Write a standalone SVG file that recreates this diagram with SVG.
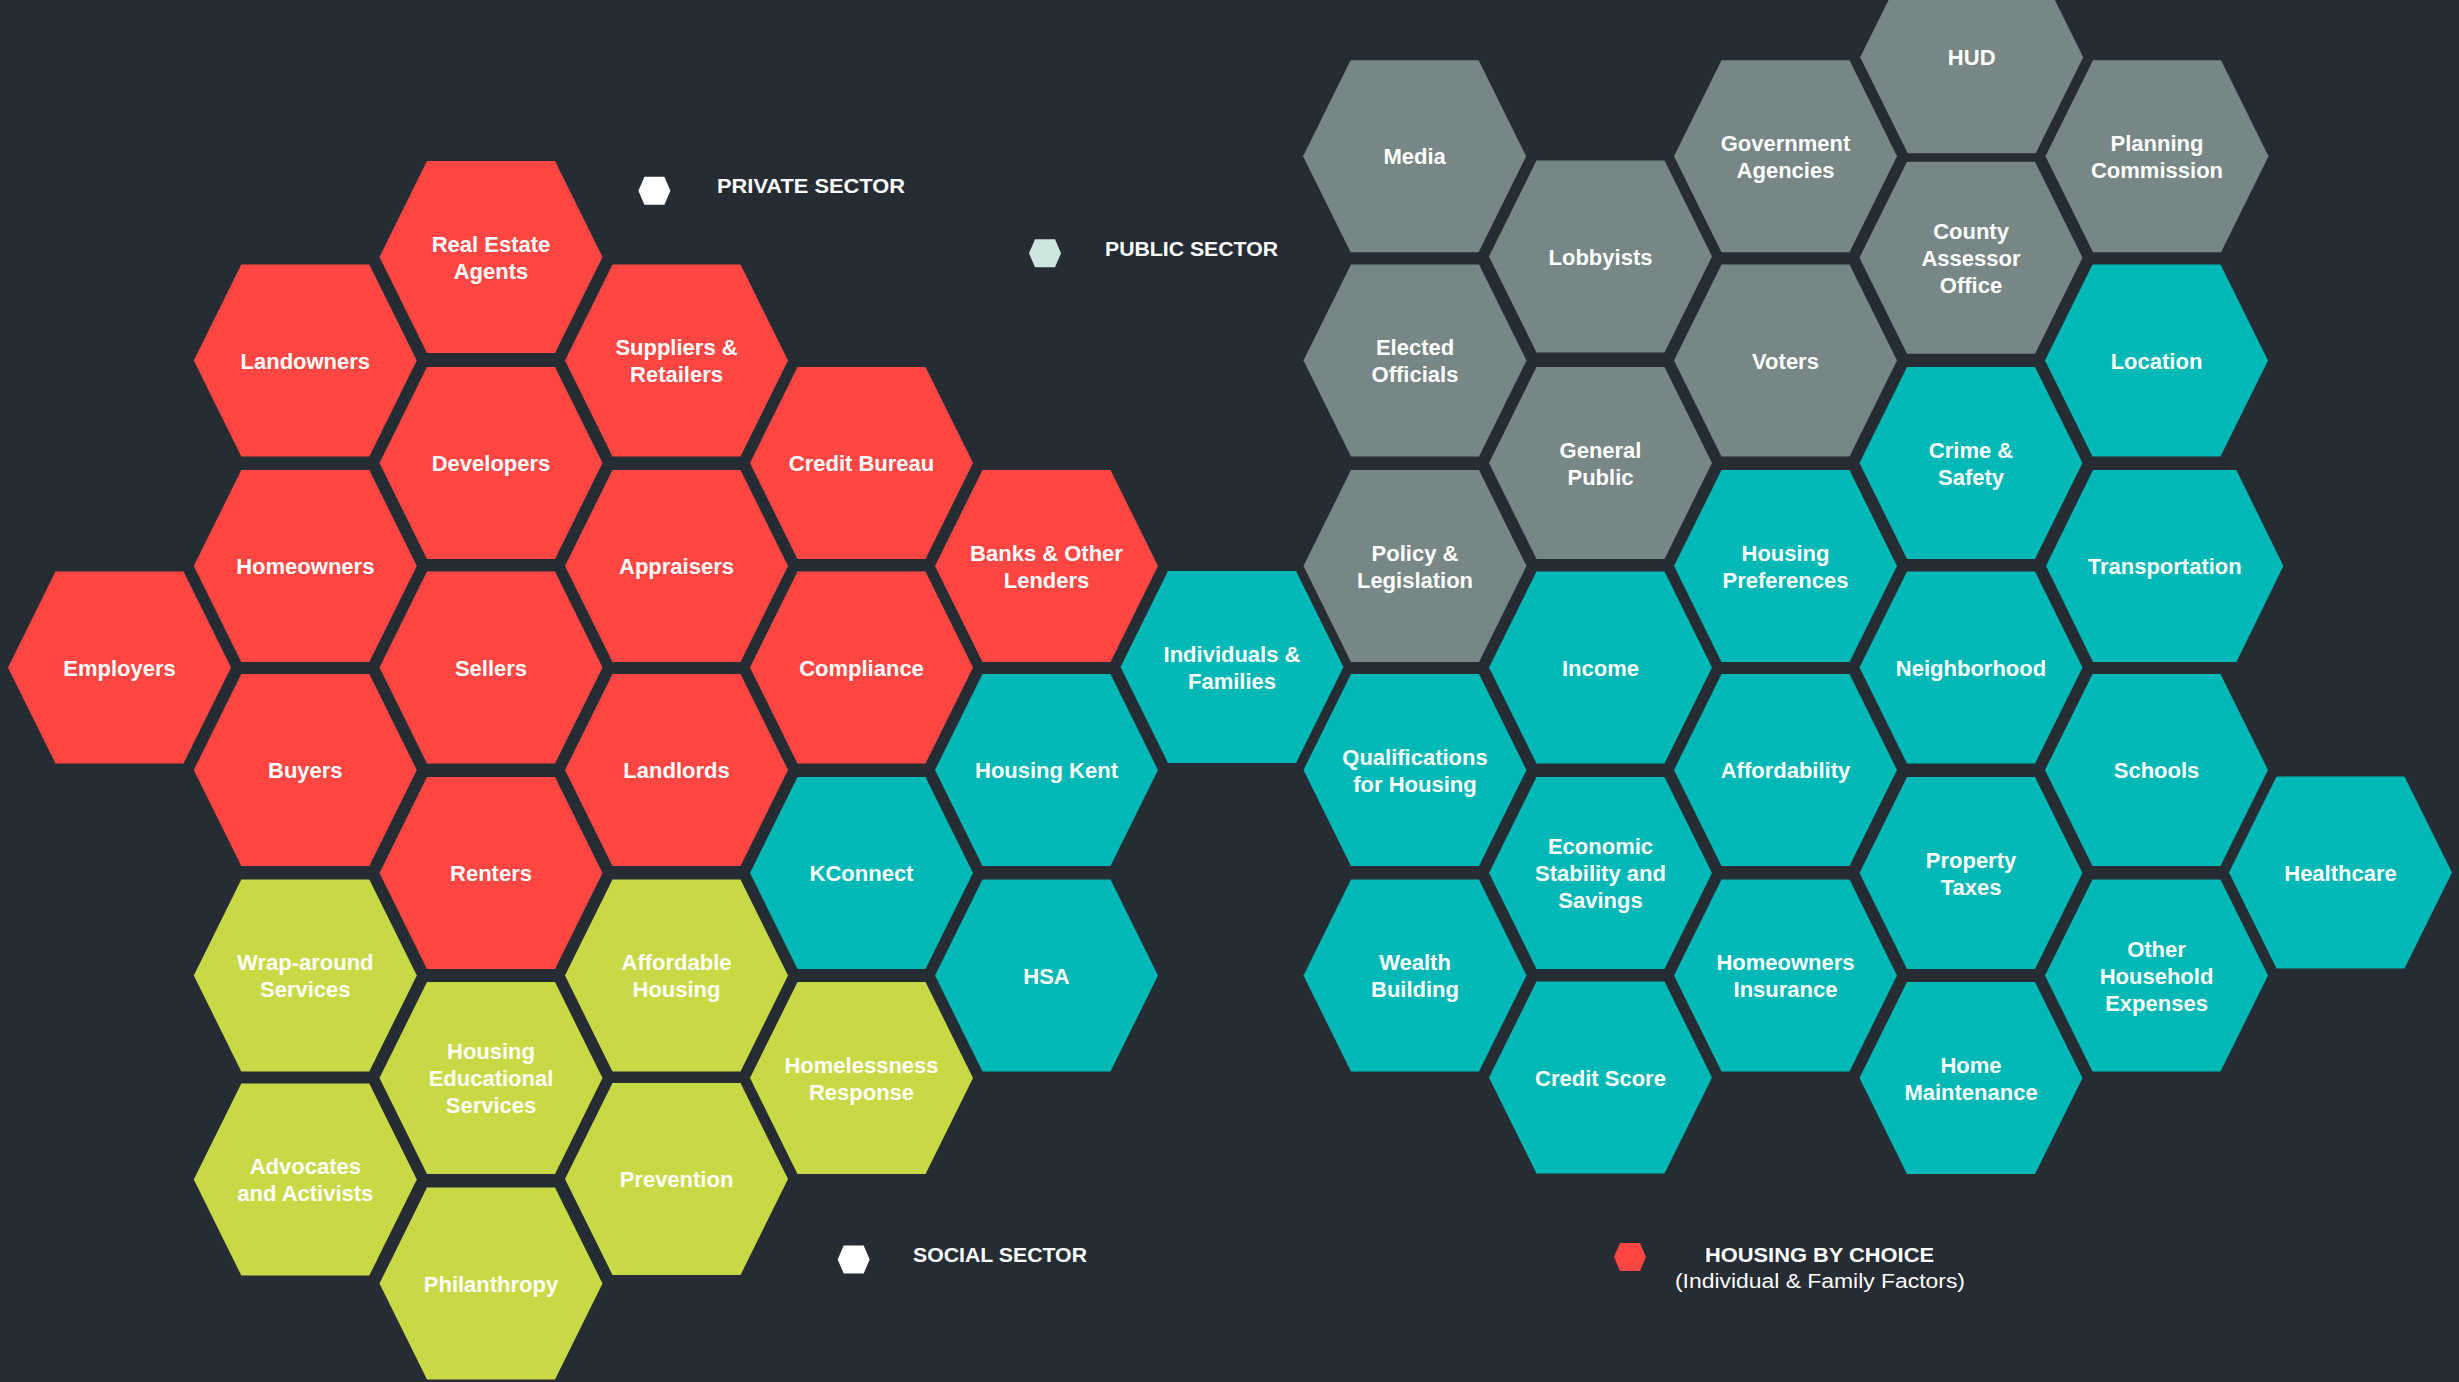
<svg xmlns="http://www.w3.org/2000/svg" xmlns:xlink="http://www.w3.org/1999/xlink" width="2459" height="1382" viewBox="0 0 2459 1382">
<style>
.r{fill:#FF4642}.g{fill:#C8D945}.t{fill:#00B8B5}.s{fill:#778786}
text{font-family:"Liberation Sans",Arial,sans-serif;font-weight:bold;font-size:22px;fill:#FFFFFF;text-anchor:middle}
.lg{font-size:21px;text-anchor:start}
.sub{font-weight:normal;font-size:20px;text-anchor:start}
</style>
<defs>
<polygon id="hex" points="-111.5,0 -64,-96 64,-96 111.5,0 64,96 -64,96"/>
<polygon id="mini" points="-16,0 -10,-14 10,-14 16,0 10,14 -10,14"/>
</defs>
<rect width="2459" height="1382" fill="#262C33"/>
<g id="connectors"/>

<g id="employers" transform="translate(119.5,667.5)"><use href="#hex" class="r"/><text y="8">Employers</text></g>
<g id="landowners" transform="translate(305.3,360.5)"><use href="#hex" class="r"/><text y="8">Landowners</text></g>
<g id="homeowners" transform="translate(305.3,566)"><use href="#hex" class="r"/><text y="8">Homeowners</text></g>
<g id="buyers" transform="translate(305.3,770)"><use href="#hex" class="r"/><text y="8">Buyers</text></g>
<g id="real-estate-agents" transform="translate(491,257)"><use href="#hex" class="r"/><text><tspan x="0" y="-5.5">Real Estate</tspan><tspan x="0" y="21.5">Agents</tspan></text></g>
<g id="developers" transform="translate(491,463)"><use href="#hex" class="r"/><text y="8">Developers</text></g>
<g id="sellers" transform="translate(491,667.5)"><use href="#hex" class="r"/><text y="8">Sellers</text></g>
<g id="renters" transform="translate(491,873)"><use href="#hex" class="r"/><text y="8">Renters</text></g>
<g id="suppliers-retailers" transform="translate(676.5,360.5)"><use href="#hex" class="r"/><text><tspan x="0" y="-5.5">Suppliers &amp;</tspan><tspan x="0" y="21.5">Retailers</tspan></text></g>
<g id="appraisers" transform="translate(676.5,566)"><use href="#hex" class="r"/><text y="8">Appraisers</text></g>
<g id="landlords" transform="translate(676.5,770)"><use href="#hex" class="r"/><text y="8">Landlords</text></g>
<g id="credit-bureau" transform="translate(861.5,463)"><use href="#hex" class="r"/><text y="8">Credit Bureau</text></g>
<g id="compliance" transform="translate(861.5,667.5)"><use href="#hex" class="r"/><text y="8">Compliance</text></g>
<g id="banks-lenders" transform="translate(1046.5,566)"><use href="#hex" class="r"/><text><tspan x="0" y="-5.5">Banks &amp; Other</tspan><tspan x="0" y="21.5">Lenders</tspan></text></g>

<g id="wrap-around-services" transform="translate(305.3,975.5)"><use href="#hex" class="g"/><text><tspan x="0" y="-5.5">Wrap-around</tspan><tspan x="0" y="21.5">Services</tspan></text></g>
<g id="advocates-activists" transform="translate(305.3,1179.5)"><use href="#hex" class="g"/><text><tspan x="0" y="-5.5">Advocates</tspan><tspan x="0" y="21.5">and Activists</tspan></text></g>
<g id="housing-educational-services" transform="translate(491,1078)"><use href="#hex" class="g"/><text><tspan x="0" y="-19">Housing</tspan><tspan x="0" y="8">Educational</tspan><tspan x="0" y="35">Services</tspan></text></g>
<g id="philanthropy" transform="translate(491,1283.5)"><use href="#hex" class="g"/><text y="8">Philanthropy</text></g>
<g id="affordable-housing" transform="translate(676.5,975.5)"><use href="#hex" class="g"/><text><tspan x="0" y="-5.5">Affordable</tspan><tspan x="0" y="21.5">Housing</tspan></text></g>
<g id="prevention" transform="translate(676.5,1179)"><use href="#hex" class="g"/><text y="8">Prevention</text></g>
<g id="homelessness-response" transform="translate(861.5,1078)"><use href="#hex" class="g"/><text><tspan x="0" y="-5.5">Homelessness</tspan><tspan x="0" y="21.5">Response</tspan></text></g>

<g id="kconnect" transform="translate(861.5,873)"><use href="#hex" class="t"/><text y="8">KConnect</text></g>
<g id="housing-kent" transform="translate(1046.5,770)"><use href="#hex" class="t"/><text y="8">Housing Kent</text></g>
<g id="hsa" transform="translate(1046.5,975.5)"><use href="#hex" class="t"/><text y="8">HSA</text></g>
<g id="individuals-families" transform="translate(1232,667)"><use href="#hex" class="t"/><text><tspan x="0" y="-5.5">Individuals &amp;</tspan><tspan x="0" y="21.5">Families</tspan></text></g>
<g id="qualifications-for-housing" transform="translate(1415,770)"><use href="#hex" class="t"/><text><tspan x="0" y="-5.5">Qualifications</tspan><tspan x="0" y="21.5">for Housing</tspan></text></g>
<g id="wealth-building" transform="translate(1415,975.5)"><use href="#hex" class="t"/><text><tspan x="0" y="-5.5">Wealth</tspan><tspan x="0" y="21.5">Building</tspan></text></g>
<g id="income" transform="translate(1600.5,667.5)"><use href="#hex" class="t"/><text y="8">Income</text></g>
<g id="economic-stability-savings" transform="translate(1600.5,873)"><use href="#hex" class="t"/><text><tspan x="0" y="-19">Economic</tspan><tspan x="0" y="8">Stability and</tspan><tspan x="0" y="35">Savings</tspan></text></g>
<g id="credit-score" transform="translate(1600.5,1077.5)"><use href="#hex" class="t"/><text y="8">Credit Score</text></g>
<g id="housing-preferences" transform="translate(1785.5,566)"><use href="#hex" class="t"/><text><tspan x="0" y="-5.5">Housing</tspan><tspan x="0" y="21.5">Preferences</tspan></text></g>
<g id="affordability" transform="translate(1785.5,770)"><use href="#hex" class="t"/><text y="8">Affordability</text></g>
<g id="homeowners-insurance" transform="translate(1785.5,975.5)"><use href="#hex" class="t"/><text><tspan x="0" y="-5.5">Homeowners</tspan><tspan x="0" y="21.5">Insurance</tspan></text></g>
<g id="crime-safety" transform="translate(1971,463)"><use href="#hex" class="t"/><text><tspan x="0" y="-5.5">Crime &amp;</tspan><tspan x="0" y="21.5">Safety</tspan></text></g>
<g id="neighborhood" transform="translate(1971,667.5)"><use href="#hex" class="t"/><text y="8">Neighborhood</text></g>
<g id="property-taxes" transform="translate(1971,873)"><use href="#hex" class="t"/><text><tspan x="0" y="-5.5">Property</tspan><tspan x="0" y="21.5">Taxes</tspan></text></g>
<g id="home-maintenance" transform="translate(1971,1078)"><use href="#hex" class="t"/><text><tspan x="0" y="-5.5">Home</tspan><tspan x="0" y="21.5">Maintenance</tspan></text></g>
<g id="location" transform="translate(2156.5,360.5)"><use href="#hex" class="t"/><text y="8">Location</text></g>
<g id="transportation" transform="translate(2164.7,566)"><polygon class="t" points="-118.7,0 -71.7,-96 71.7,-96 118.7,0 71.7,96 -71.7,96"/><text y="8">Transportation</text></g>
<g id="schools" transform="translate(2156.5,770)"><use href="#hex" class="t"/><text y="8">Schools</text></g>
<g id="other-household-expenses" transform="translate(2156.5,975.5)"><use href="#hex" class="t"/><text><tspan x="0" y="-19">Other</tspan><tspan x="0" y="8">Household</tspan><tspan x="0" y="35">Expenses</tspan></text></g>
<g id="healthcare" transform="translate(2340.5,872.5)"><use href="#hex" class="t"/><text y="8">Healthcare</text></g>

<g id="media" transform="translate(1414.6,156.3)"><use href="#hex" class="s"/><text y="8">Media</text></g>
<g id="elected-officials" transform="translate(1415,360.5)"><use href="#hex" class="s"/><text><tspan x="0" y="-5.5">Elected</tspan><tspan x="0" y="21.5">Officials</tspan></text></g>
<g id="policy-legislation" transform="translate(1415,566)"><use href="#hex" class="s"/><text><tspan x="0" y="-5.5">Policy &amp;</tspan><tspan x="0" y="21.5">Legislation</tspan></text></g>
<g id="lobbyists" transform="translate(1600.5,256.5)"><use href="#hex" class="s"/><text y="8">Lobbyists</text></g>
<g id="general-public" transform="translate(1600.5,463)"><use href="#hex" class="s"/><text><tspan x="0" y="-5.5">General</tspan><tspan x="0" y="21.5">Public</tspan></text></g>
<g id="government-agencies" transform="translate(1785.5,156.3)"><use href="#hex" class="s"/><text><tspan x="0" y="-5.5">Government</tspan><tspan x="0" y="21.5">Agencies</tspan></text></g>
<g id="voters" transform="translate(1785.5,360.5)"><use href="#hex" class="s"/><text y="8">Voters</text></g>
<g id="hud" transform="translate(1971.7,57.3)"><use href="#hex" class="s"/><text y="8">HUD</text></g>
<g id="county-assessor-office" transform="translate(1971,257.7)"><use href="#hex" class="s"/><text><tspan x="0" y="-19">County</tspan><tspan x="0" y="8">Assessor</tspan><tspan x="0" y="35">Office</tspan></text></g>
<g id="planning-commission" transform="translate(2157,156.3)"><use href="#hex" class="s"/><text><tspan x="0" y="-5.5">Planning</tspan><tspan x="0" y="21.5">Commission</tspan></text></g>

<g id="legend-private"><use href="#mini" x="654.4" y="190.7" fill="#FFFFFF"/><text class="lg" x="717" y="192.7" textLength="188" lengthAdjust="spacingAndGlyphs">PRIVATE SECTOR</text></g>
<g id="legend-public"><use href="#mini" x="1045" y="253.3" fill="#CDE6E0"/><text class="lg" x="1105" y="256" textLength="173" lengthAdjust="spacingAndGlyphs">PUBLIC SECTOR</text></g>
<g id="legend-social"><use href="#mini" x="853.7" y="1259.5" fill="#FFFFFF"/><text class="lg" x="913" y="1261.7" textLength="174" lengthAdjust="spacingAndGlyphs">SOCIAL SECTOR</text></g>
<g id="legend-housing-by-choice"><use href="#mini" x="1630" y="1257" fill="#FF4642"/><text class="lg" x="1705" y="1261.7" textLength="229" lengthAdjust="spacingAndGlyphs">HOUSING BY CHOICE</text><text class="sub" x="1675" y="1288" textLength="290" lengthAdjust="spacingAndGlyphs">(Individual &amp; Family Factors)</text></g>
</svg>
